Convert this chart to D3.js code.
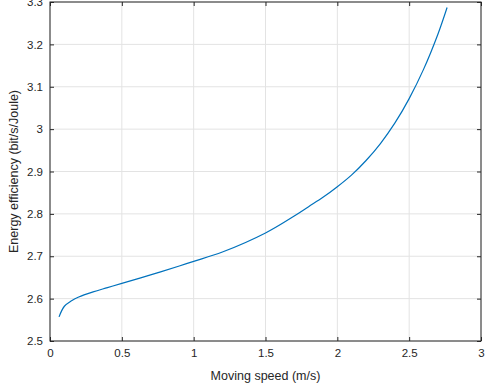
<!DOCTYPE html>
<html>
<head>
<meta charset="utf-8">
<script src="https://cdn.jsdelivr.net/npm/d3@7"></script>
<style>
  body { margin: 0; background: #fff; }
  text { font-family: "Liberation Sans", Arial, sans-serif; fill: #262626; }
</style>
</head>
<body>
<div id="chart"></div>
<script>
// speed (m/s) vs energy efficiency (bit/s/Joule)
const speed = [0.063, 0.1, 0.15, 0.2, 0.3, 0.4, 0.5, 0.7, 0.9, 1.0, 1.2, 1.5, 1.7, 1.8, 1.9, 2.0, 2.1, 2.2, 2.3, 2.4, 2.5, 2.6, 2.7, 2.764];
const efficiency = [2.557, 2.582, 2.595, 2.604, 2.616, 2.626, 2.636, 2.656, 2.677, 2.688, 2.71, 2.755, 2.795, 2.817, 2.839, 2.864, 2.892, 2.926, 2.966, 3.014, 3.072, 3.141, 3.224, 3.287];
const xTicks = [0, 0.5, 1, 1.5, 2, 2.5, 3];
const yTicks = [2.5, 2.6, 2.7, 2.8, 2.9, 3, 3.1, 3.2, 3.3];

const width = 485;
const height = 392;
const margin = { top: 2, right: 4, bottom: 51, left: 50 };

const svg = d3.select('#chart').append('svg')
  .attr('width', width)
  .attr('height', height);

const x = d3.scaleLinear().domain([0, 3]).range([margin.left, width - margin.right]);
const y = d3.scaleLinear().domain([2.5, 3.3]).range([height - margin.bottom, margin.top]);

// grid
svg.append('g')
  .selectAll('line.gx')
  .data(xTicks)
  .join('line')
  .attr('x1', d => x(d)).attr('x2', d => x(d))
  .attr('y1', y(2.5)).attr('y2', y(3.3))
  .attr('stroke', '#e3e3e3').attr('stroke-width', 1);

svg.append('g')
  .selectAll('line.gy')
  .data(yTicks)
  .join('line')
  .attr('x1', x(0)).attr('x2', x(3))
  .attr('y1', d => y(d)).attr('y2', d => y(d))
  .attr('stroke', '#e3e3e3').attr('stroke-width', 1);

// the curve
const pts = speed.map((s, i) => ({ s: s, e: efficiency[i] }));
const line = d3.line()
  .x(d => x(d.s))
  .y(d => y(d.e))
  .curve(d3.curveCatmullRom.alpha(0.5));

svg.append('path')
  .datum(pts)
  .attr('fill', 'none')
  .attr('stroke', '#0072bd')
  .attr('stroke-width', 1.2)
  .attr('d', line);

// axes (ticks inward, box on)
const fmt = d3.format('~g');
const tk = 4;
const axisStyle = g => {
  g.select('.domain').remove();
  g.selectAll('.tick line').attr('stroke', '#262626');
  g.selectAll('.tick text').attr('font-size', 11.5).attr('fill', '#262626');
};

svg.append('g')
  .attr('transform', `translate(0,${y(2.5)})`)
  .call(d3.axisBottom(x).tickValues(xTicks).tickFormat(fmt).tickSizeInner(-tk).tickPadding(8))
  .call(axisStyle);

svg.append('g')
  .attr('transform', `translate(0,${y(3.3)})`)
  .call(d3.axisTop(x).tickValues(xTicks).tickFormat('').tickSizeInner(-tk))
  .call(axisStyle);

svg.append('g')
  .attr('transform', `translate(${x(0)},0)`)
  .call(d3.axisLeft(y).tickValues(yTicks).tickFormat(fmt).tickSizeInner(-tk).tickPadding(7))
  .call(axisStyle);

svg.append('g')
  .attr('transform', `translate(${x(3)},0)`)
  .call(d3.axisRight(y).tickValues(yTicks).tickFormat('').tickSizeInner(-tk))
  .call(axisStyle);

svg.append('rect')
  .attr('x', x(0)).attr('y', y(3.3))
  .attr('width', x(3) - x(0)).attr('height', y(2.5) - y(3.3))
  .attr('fill', 'none').attr('stroke', '#262626').attr('stroke-width', 1);

// labels
svg.append('text')
  .attr('x', (x(0) + x(3)) / 2)
  .attr('y', 380)
  .attr('text-anchor', 'middle')
  .attr('font-size', 12.5)
  .text('Moving speed (m/s)');

svg.append('text')
  .attr('transform', `translate(18,${(y(2.5) + y(3.3)) / 2}) rotate(-90)`)
  .attr('text-anchor', 'middle')
  .attr('font-size', 12.5)
  .text('Energy efficiency (bit/s/Joule)');
</script>
</body>
</html>
